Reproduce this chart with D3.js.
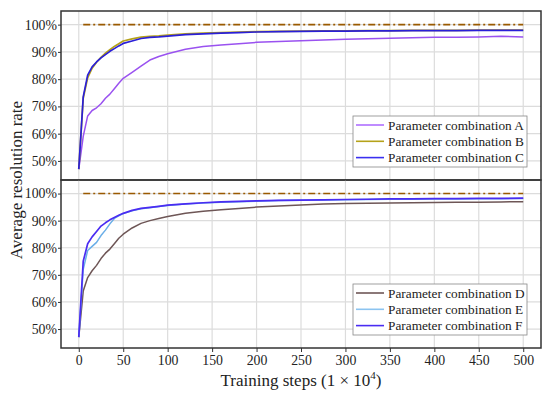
<!DOCTYPE html>
<html>
<head>
<meta charset="utf-8">
<script src="https://cdn.jsdelivr.net/npm/d3@7"></script>
<style>
  body { margin: 0; background: #fff; }
  text { font-family: "Liberation Serif", "Times New Roman", serif; fill: #222; }
</style>
</head>
<body>
<svg id="chart" width="550" height="396"></svg>
<script>
// training steps (x 10^4)
var steps = [0,5,10,15,20,25,30,35,40,45,50,60,70,80,90,100,120,140,160,180,200,225,250,275,300,325,350,375,400,425,450,475,500];

// top panel
var comboA = [47,59,66.5,68.5,69.5,71,73,74.5,76.5,78.5,80.3,82.5,84.8,87,88.3,89.3,91,92,92.5,93,93.5,93.8,94.1,94.4,94.6,94.8,95,95.2,95.4,95.4,95.5,95.7,95.5];
var comboB = [47,73,80.5,84,86.2,88,89.5,90.8,92,93,94,94.8,95.4,95.7,95.9,96.2,96.6,96.9,97.1,97.3,97.4,97.5,97.6,97.7,97.7,97.8,97.8,97.9,97.9,97.9,98,98,98];
var comboC = [47,73.5,81.5,84.5,86.3,87.8,89,90.2,91.2,92.2,93.1,94,94.9,95.3,95.5,95.8,96.3,96.6,96.9,97.1,97.3,97.4,97.5,97.6,97.6,97.7,97.7,97.8,97.8,97.8,97.9,97.9,97.9];

// bottom panel
var comboD = [47,64,69,71.5,73.5,76,78,79.5,81.5,83.5,85,87.3,89,90,90.8,91.5,92.7,93.5,94,94.5,95,95.4,95.8,96.1,96.3,96.4,96.5,96.6,96.7,96.8,96.8,96.9,97];
var comboE = [47,72,79,80.5,82,84.5,86.5,88.8,90.8,91.8,92.6,93.6,94.4,94.8,95.2,95.6,96.1,96.5,96.8,97,97.2,97.4,97.5,97.6,97.7,97.8,97.9,97.9,98,98,98.1,98.1,98.2];
var comboF = [47,75,81.5,84,86,88,89.2,90.3,91.2,92,92.7,93.8,94.5,94.9,95.3,95.7,96.2,96.6,96.9,97.1,97.3,97.5,97.6,97.7,97.8,97.9,98,98,98.1,98.1,98.2,98.2,98.3];

var xTicks = [0,50,100,150,200,250,300,350,400,450,500];
var yTicks = [50,60,70,80,90,100];
var targetLine = [5, 500]; // 100% reference line span

var panels = [
  { top: 11, bottom: 180, legendY: 116,
    series: [
      { name: "Parameter combination A", values: comboA, color: "#9a52f0", legendColor: "#b070ff", width: 1.5 },
      { name: "Parameter combination B", values: comboB, color: "#b5a21a", legendColor: "#b5a21a", width: 1.7 },
      { name: "Parameter combination C", values: comboC, color: "#2a1fd8", legendColor: "#3a30f0", width: 1.7 }
    ] },
  { top: 180, bottom: 348, legendY: 284,
    series: [
      { name: "Parameter combination D", values: comboD, color: "#6e5656", legendColor: "#6e5656", width: 1.5 },
      { name: "Parameter combination E", values: comboE, color: "#6aaee8", legendColor: "#8cc4f0", width: 1.5 },
      { name: "Parameter combination F", values: comboF, color: "#4a2cf2", legendColor: "#4a2cf2", width: 1.7 }
    ] }
];

var svg = d3.select("#chart");
var left = 61, right = 541;

var x = d3.scaleLinear().domain([-20, 520]).range([left, right]);

panels.forEach(function(p, pi) {
  var y = d3.scaleLinear().domain([43, 105]).range([p.bottom, p.top]);
  var g = svg.append("g");

  // grid
  g.selectAll(".vg").data(xTicks).enter().append("line")
    .attr("x1", function(d) { return x(d); }).attr("x2", function(d) { return x(d); })
    .attr("y1", p.top).attr("y2", p.bottom)
    .attr("stroke", "#dcdcdc").attr("stroke-width", 1.2);
  g.selectAll(".hg").data(yTicks).enter().append("line")
    .attr("x1", left).attr("x2", right)
    .attr("y1", function(d) { return y(d); }).attr("y2", function(d) { return y(d); })
    .attr("stroke", "#dcdcdc").attr("stroke-width", 1.2);

  // y axis
  var yAxis = d3.axisLeft(y).tickValues(yTicks).tickSize(3).tickFormat(function(d) { return d + "%"; });
  var ya = g.append("g").attr("transform", "translate(" + left + ",0)").call(yAxis);
  ya.select(".domain").remove();
  ya.selectAll("line").attr("stroke", "#333");
  ya.selectAll("text").attr("font-size", 13.8).attr("font-family", "Liberation Serif").attr("fill", "#222").attr("x", -4);

  // 100% reference
  g.append("line")
    .attr("x1", x(targetLine[0])).attr("x2", x(targetLine[1]))
    .attr("y1", y(100)).attr("y2", y(100))
    .attr("stroke", "#9a5a00").attr("stroke-width", 1.6)
    .attr("stroke-dasharray", "7,3,2,3");

  var line = d3.line()
    .x(function(d, i) { return x(steps[i]); })
    .y(function(d) { return y(d); });

  p.series.forEach(function(s) {
    g.append("path").datum(s.values)
      .attr("d", line).attr("fill", "none")
      .attr("stroke", s.color).attr("stroke-width", s.width)
      .attr("stroke-linejoin", "round");
  });

  // frame
  g.append("rect").attr("x", left).attr("y", p.top)
    .attr("width", right - left).attr("height", p.bottom - p.top)
    .attr("fill", "none").attr("stroke", "#333").attr("stroke-width", 1.5);

  // legend
  var lg = g.append("g").attr("transform", "translate(353," + p.legendY + ")");
  lg.append("rect").attr("width", 174).attr("height", 51)
    .attr("fill", "#fff").attr("stroke", "#888").attr("stroke-width", 0.8);
  p.series.forEach(function(s, i) {
    var yy = 9 + i * 16.3;
    lg.append("line").attr("x1", 3).attr("x2", 31).attr("y1", yy).attr("y2", yy)
      .attr("stroke", s.legendColor).attr("stroke-width", 1.6);
    lg.append("text").attr("x", 35).attr("y", yy + 4.8)
      .attr("font-size", 13.3).text(s.name);
  });

  if (pi === 1) {
    var xAxis = d3.axisBottom(x).tickValues(xTicks).tickSize(4);
    var xa = g.append("g").attr("transform", "translate(0," + p.bottom + ")").call(xAxis);
    xa.select(".domain").remove();
    xa.selectAll("line").attr("stroke", "#333");
    xa.selectAll("text").attr("font-size", 13.8).attr("font-family", "Liberation Serif").attr("fill", "#222").attr("y", 7);
  }
});

// axis titles
svg.append("text")
  .attr("transform", "translate(22,180) rotate(-90)")
  .attr("text-anchor", "middle").attr("font-size", 17)
  .text("Average resolution rate");

var xt = svg.append("text")
  .attr("x", 301).attr("y", 386)
  .attr("text-anchor", "middle").attr("font-size", 17);
xt.append("tspan").text("Training steps (1 × 10");
xt.append("tspan").attr("font-size", 11).attr("dy", -7).text("4");
xt.append("tspan").attr("dy", 7).text(")");
</script>
</body>
</html>
